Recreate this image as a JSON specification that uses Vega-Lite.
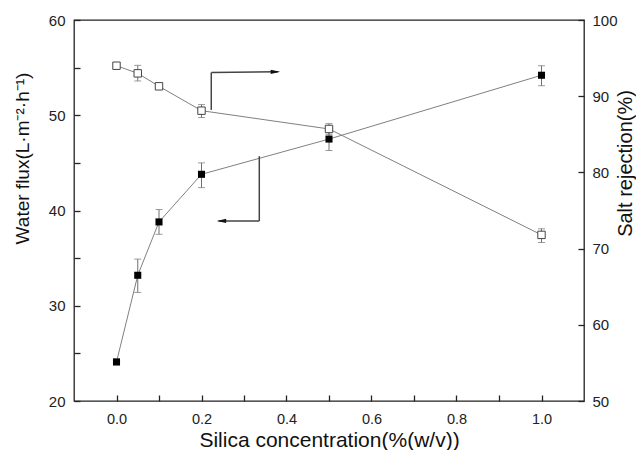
{
  "$schema": "https://vega.github.io/schema/vega-lite/v6.json",
  "width": 510,
  "height": 381,
  "autosize": {"type": "none"},
  "padding": {"left": 74, "top": 20, "right": 52, "bottom": 49},
  "background": "white",
  "config": {
    "font": "Liberation Sans",
    "view": {"stroke": "#222", "strokeWidth": 1.3},
    "axis": {
      "grid": false,
      "ticks": true,
      "domain": false,
      "offset": -6,
      "tickColor": "#222",
      "tickWidth": 1.3,
      "tickSize": 6,
      "labelFont": "Liberation Sans",
      "labelFontSize": 15,
      "labelColor": "#222",
      "titleFont": "Liberation Sans",
      "titleFontSize": 21,
      "titleFontWeight": "normal",
      "titleColor": "#111"
    }
  },
  "datasets": {
    "flux": [
      {"x": 0.0, "y": 24.1, "lo": 23.8, "hi": 24.4},
      {"x": 0.05, "y": 33.2, "lo": 31.4, "hi": 34.9},
      {"x": 0.1, "y": 38.8, "lo": 37.5, "hi": 40.1},
      {"x": 0.2, "y": 43.8, "lo": 42.4, "hi": 45.0},
      {"x": 0.5, "y": 47.5, "lo": 46.3, "hi": 48.5},
      {"x": 1.0, "y": 54.2, "lo": 53.1, "hi": 55.2}
    ],
    "rej": [
      {"x": 0.0, "y": 94.0, "lo": 93.7, "hi": 94.3},
      {"x": 0.05, "y": 93.0, "lo": 92.0, "hi": 94.05},
      {"x": 0.1, "y": 91.3, "lo": 91.0, "hi": 91.6},
      {"x": 0.2, "y": 88.1, "lo": 87.2, "hi": 88.9},
      {"x": 0.5, "y": 85.7, "lo": 85.0, "hi": 86.4},
      {"x": 1.0, "y": 71.8, "lo": 70.8, "hi": 72.6}
    ],
    "fluxArrow": [
      {"x": 0.336, "x2": 0.336, "y": 45.7, "y2": 38.9},
      {"x": 0.336, "x2": 0.24, "y": 38.9, "y2": 38.9}
    ],
    "fluxHead": [{"x": 0.247, "y": 38.9}],
    "rejArrow": [
      {"x": 0.223, "x2": 0.223, "y": 88.2, "y2": 93.1},
      {"x": 0.223, "x2": 0.38, "y": 93.1, "y2": 93.2}
    ],
    "rejHead": [{"x": 0.374, "y": 93.2}]
  },
  "layer": [
    {
      "layer": [
        {
          "data": {"name": "flux"},
          "mark": {"type": "line", "color": "#808080", "strokeWidth": 1},
          "encoding": {
            "x": {
              "field": "x", "type": "quantitative",
              "scale": {"domain": [-0.1, 1.1], "nice": false, "zero": false},
              "axis": {
                "title": "Silica concentration(%(w/v))",
                "orient": "bottom",
                "values": [0, 0.1, 0.2, 0.3, 0.4, 0.5, 0.6, 0.7, 0.8, 0.9, 1.0],
                "labelExpr": "round(datum.value*10) % 2 == 0 ? format(datum.value, '.1f') : ''",
                "labelPadding": 11,
                "labelFontSize": 14.5,
                "titleBaseline": "alphabetic",
                "titleY": 51
              }
            },
            "y": {
              "field": "y", "type": "quantitative",
              "scale": {"domain": [20, 60], "nice": false, "zero": false},
              "axis": {
                "title": "Water flux(L·m⁻²·h⁻¹)",
                "orient": "left",
                "values": [20, 25, 30, 35, 40, 45, 50, 55, 60],
                "labelExpr": "datum.value % 10 == 0 ? datum.value : ''",
                "labelPadding": 9,
                "titleFontSize": 19,
                "titleAngle": 270,
                "titleBaseline": "middle",
                "titleX": -58,
                "titleY": 138
              }
            }
          }
        },
        {
          "data": {"name": "flux"},
          "mark": {"type": "rule", "color": "#707070", "strokeWidth": 1},
          "encoding": {
            "x": {"field": "x", "type": "quantitative"},
            "y": {"field": "lo", "type": "quantitative"},
            "y2": {"field": "hi"}
          }
        },
        {
          "data": {"name": "flux"},
          "mark": {"type": "tick", "orient": "horizontal", "color": "#707070", "size": 7, "thickness": 1},
          "encoding": {
            "x": {"field": "x", "type": "quantitative"},
            "y": {"field": "lo", "type": "quantitative"}
          }
        },
        {
          "data": {"name": "flux"},
          "mark": {"type": "tick", "orient": "horizontal", "color": "#707070", "size": 7, "thickness": 1},
          "encoding": {
            "x": {"field": "x", "type": "quantitative"},
            "y": {"field": "hi", "type": "quantitative"}
          }
        },
        {
          "data": {"name": "flux"},
          "mark": {"type": "point", "shape": "square", "filled": true, "color": "#000", "size": 50, "opacity": 1},
          "encoding": {
            "x": {"field": "x", "type": "quantitative"},
            "y": {"field": "y", "type": "quantitative"}
          }
        },
        {
          "data": {"name": "fluxArrow"},
          "mark": {"type": "rule", "color": "#444", "strokeWidth": 1.5},
          "encoding": {
            "x": {"field": "x", "type": "quantitative"},
            "x2": {"field": "x2"},
            "y": {"field": "y", "type": "quantitative"},
            "y2": {"field": "y2"}
          }
        },
        {
          "data": {"name": "fluxHead"},
          "mark": {"type": "point", "shape": "M1,-0.45L-1,0L1,0.45Z", "filled": true, "color": "#111", "size": 90, "opacity": 1},
          "encoding": {
            "x": {"field": "x", "type": "quantitative"},
            "y": {"field": "y", "type": "quantitative"}
          }
        }
      ]
    },
    {
      "layer": [
        {
          "data": {"name": "rej"},
          "mark": {"type": "line", "color": "#808080", "strokeWidth": 1},
          "encoding": {
            "x": {"field": "x", "type": "quantitative"},
            "y": {
              "field": "y", "type": "quantitative",
              "scale": {"domain": [50, 100], "nice": false, "zero": false},
              "axis": {
                "title": "Salt rejection(%)",
                "orient": "right",
                "values": [50, 55, 60, 65, 70, 75, 80, 85, 90, 95, 100],
                "labelExpr": "datum.value % 10 == 0 ? datum.value : ''",
                "labelPadding": 8,
                "titleFontSize": 20,
                "titleAngle": 270,
                "titleBaseline": "middle",
                "titleX": 47,
                "titleY": 143
              }
            }
          }
        },
        {
          "data": {"name": "rej"},
          "mark": {"type": "rule", "color": "#707070", "strokeWidth": 1},
          "encoding": {
            "x": {"field": "x", "type": "quantitative"},
            "y": {"field": "lo", "type": "quantitative"},
            "y2": {"field": "hi"}
          }
        },
        {
          "data": {"name": "rej"},
          "mark": {"type": "tick", "orient": "horizontal", "color": "#707070", "size": 7, "thickness": 1},
          "encoding": {
            "x": {"field": "x", "type": "quantitative"},
            "y": {"field": "lo", "type": "quantitative"}
          }
        },
        {
          "data": {"name": "rej"},
          "mark": {"type": "tick", "orient": "horizontal", "color": "#707070", "size": 7, "thickness": 1},
          "encoding": {
            "x": {"field": "x", "type": "quantitative"},
            "y": {"field": "hi", "type": "quantitative"}
          }
        },
        {
          "data": {"name": "rej"},
          "mark": {"type": "point", "shape": "square", "filled": true, "fill": "white", "stroke": "#444", "strokeWidth": 1, "size": 55, "opacity": 1},
          "encoding": {
            "x": {"field": "x", "type": "quantitative"},
            "y": {"field": "y", "type": "quantitative"}
          }
        },
        {
          "data": {"name": "rejArrow"},
          "mark": {"type": "rule", "color": "#444", "strokeWidth": 1.5},
          "encoding": {
            "x": {"field": "x", "type": "quantitative"},
            "x2": {"field": "x2"},
            "y": {"field": "y", "type": "quantitative"},
            "y2": {"field": "y2"}
          }
        },
        {
          "data": {"name": "rejHead"},
          "mark": {"type": "point", "shape": "M-1,-0.45L1,0L-1,0.45Z", "filled": true, "color": "#111", "size": 90, "opacity": 1},
          "encoding": {
            "x": {"field": "x", "type": "quantitative"},
            "y": {"field": "y", "type": "quantitative"}
          }
        }
      ]
    }
  ],
  "resolve": {"scale": {"y": "independent"}}
}
